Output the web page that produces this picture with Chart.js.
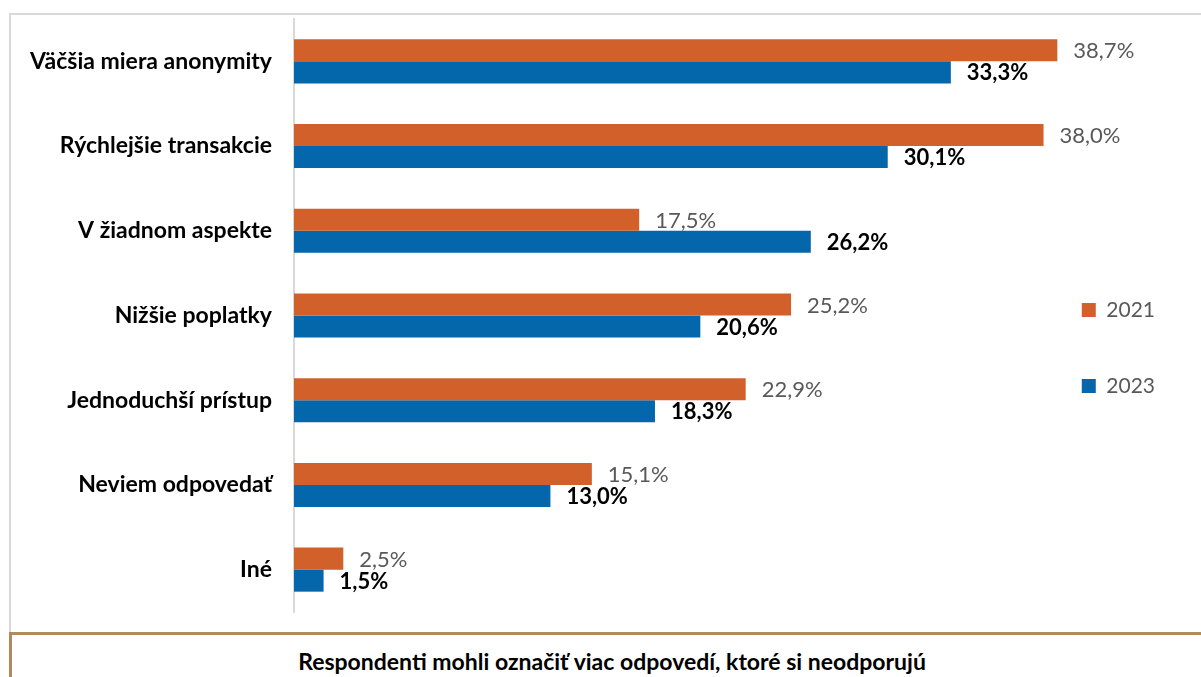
<!DOCTYPE html>
<html>
<head>
<meta charset="utf-8">
<script src="https://cdn.jsdelivr.net/npm/chart.js@4"></script>
<style>
  body { margin: 0; background: #fff; font-family: Lato, sans-serif; overflow: hidden; }
  #frame {
    position: absolute; left: 9px; top: 13px; width: 1200px; height: 617px;
    border: 2px solid #d9d9d9; border-right: none; border-bottom: none;
  }
  #chartBox { position: absolute; left: 11px; top: 15px; width: 1190px; height: 617px; }
  #note {
    position: absolute; left: 9px; top: 632px; width: 1200px; height: 60px;
    border-top: 3px solid #b08a5e; border-left: 3px solid #b08a5e;
    text-align: center; font-weight: bold; font-size: 23px; color: #000;
    line-height: 52px;
  }
</style>
</head>
<body>
<div id="frame"></div>
<div id="chartBox"><canvas id="myChart"></canvas></div>
<div id="note">Respondenti mohli označiť viac odpovedí, ktoré si neodporujú</div>
<script>
const ctx = document.getElementById("myChart");

//. Data
const categories = [
  "Väčšia miera anonymity",
  "Rýchlejšie transakcie",
  "V žiadnom aspekte",
  "Nižšie poplatky",
  "Jednoduchší prístup",
  "Neviem odpovedať",
  "Iné",
];
const values2021 = [38.7, 38.0, 17.5, 25.2, 22.9, 15.1, 2.5];
const values2023 = [33.3, 30.1, 26.2, 20.6, 18.3, 13.0, 1.5];

const fmt = (v) => v.toFixed(1).replace(".", ",") + "%";

//. Value labels next to the bar ends
const valueLabels = {
  id: "valueLabels",
  afterDatasetsDraw(chart) {
    const c = chart.ctx;
    c.save();
    c.textBaseline = "middle";
    c.textAlign = "left";
    chart.data.datasets.forEach((ds, i) => {
      const meta = chart.getDatasetMeta(i);
      c.font = (i === 1 ? "bold " : "") + "22px Lato";
      c.fillStyle = i === 1 ? "#000000" : "#595959";
      meta.data.forEach((bar, j) => {
        c.fillText(fmt(ds.data[j]), bar.x + 16, bar.y + 1);
      });
    });
    c.restore();
  },
};

let myChart = new Chart(ctx, {
  type: "bar",
  data: {
    labels: categories,
    datasets: [
      { label: "2021", data: values2021, backgroundColor: "#d2602a", clip: false },
      { label: "2023", data: values2023, backgroundColor: "#0466ab", clip: false },
    ],
  },
  options: {
    indexAxis: "y",
    responsive: true,
    maintainAspectRatio: false,
    animation: false,
    categoryPercentage: 0.52,
    barPercentage: 1,
    layout: { padding: { top: 4, bottom: 20, right: 36 } },
    scales: {
      // the legend sits in the gutter, bars may run past the plot edge
      x: { display: false, min: 0, max: 37.15 },
      y: {
        grid: { display: false, drawTicks: false },
        border: { color: "#d9d9d9", width: 2 },
        ticks: {
          color: "#000",
          font: { family: "Lato", size: 23, weight: "bold" },
          padding: 22,
        },
        // Fixed axis width so the bars start at the same place
        afterFit(scale) {
          scale.width = 283;
          scale.paddingTop = 0;
          scale.paddingBottom = 0;
        },
      },
    },
    plugins: {
      tooltip: { enabled: false },
      legend: {
        position: "right",
        title: { display: true, text: " ", font: { size: 14 }, padding: { top: 0, bottom: 48 } },
        labels: {
          boxWidth: 14,
          boxHeight: 14,
          padding: 55,
          color: "#595959",
          font: { family: "Lato", size: 21 },
        },
      },
    },
  },
  plugins: [valueLabels],
});
</script>
</body>
</html>
